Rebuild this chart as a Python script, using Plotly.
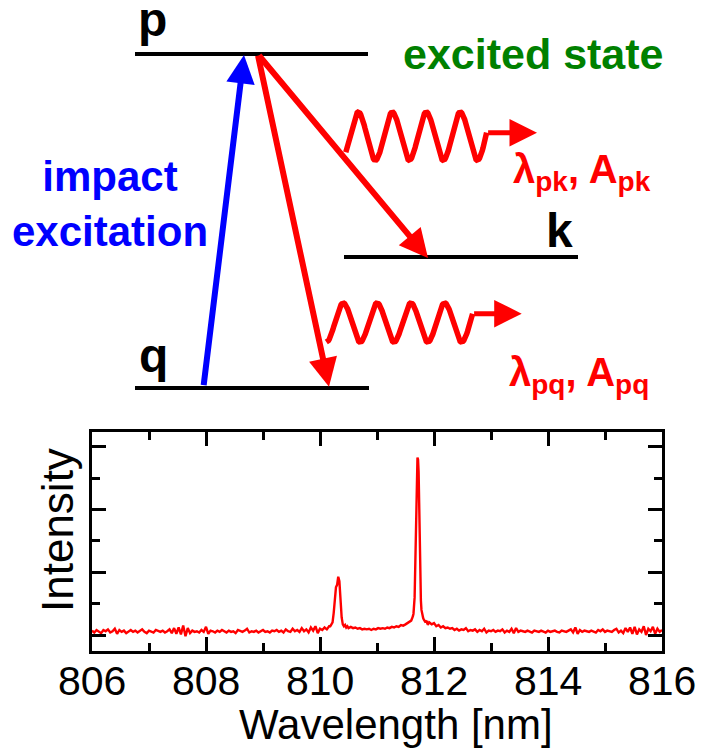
import numpy as np
import plotly.graph_objects as go

# ---------------- spectrum data ----------------
seg_start = [806.00, 810.18, 810.54, 811.60, 811.92]
seg_step = [0.04, 0.02, 0.04, 0.01, 0.04]

seg_a = [0.07, 0.04, 0.08, 0.05, 0.03, 0.08, 0.06, 0.09, 0.04, 0.06,
         0.10, 0.02, 0.08, 0.05, 0.07, 0.03, 0.06, 0.08, 0.05, 0.07,
         0.04, 0.06, 0.09, 0.05, 0.03, 0.07, 0.06, 0.04, 0.08, 0.06,
         0.05, 0.07, 0.04, 0.06, 0.09, 0.03, 0.11, 0.02, 0.12, 0.01,
         0.15, -0.02, 0.11, 0.03, 0.07, 0.05, 0.06, 0.04, 0.08, 0.05,
         0.13, 0.02, 0.07, 0.06, 0.04, 0.07, 0.05, 0.08, 0.06, 0.04,
         0.07, 0.05, 0.06, 0.03, 0.08, 0.06, 0.05, 0.07, 0.10, 0.04,
         0.06, 0.05, 0.07, 0.04, 0.06, 0.08, 0.05, 0.06, 0.04, 0.07,
         0.06, 0.08, 0.05, 0.07, 0.04, 0.09, 0.06, 0.05, 0.10, 0.06,
         0.08, 0.05, 0.11, 0.06, 0.09, 0.04, 0.12, 0.07, 0.14, 0.03,
         0.10, 0.08, 0.12, 0.09, 0.14]
seg_b = [0.14, 0.17, 0.20, 0.35, 0.62, 0.76, 0.80, 0.93, 0.86, 0.55,
         0.28, 0.17, 0.14, 0.16, 0.12, 0.14, 0.11]
seg_c = [0.13, 0.11, 0.12, 0.10, 0.11, 0.09, 0.10, 0.09, 0.10, 0.08,
         0.10, 0.09, 0.11, 0.10, 0.11, 0.10, 0.12, 0.11, 0.13, 0.12,
         0.14, 0.13, 0.16, 0.15, 0.17, 0.19, 0.22]
seg_d = [0.23, 0.25, 0.27, 0.30, 0.34, 0.42, 0.60, 1.05, 1.70, 2.30,
         2.70, 2.83, 2.80, 2.60, 2.10, 1.45, 0.90, 0.55, 0.40, 0.33,
         0.30, 0.27, 0.25, 0.24, 0.22, 0.23, 0.20, 0.21, 0.19, 0.20,
         0.18]
seg_e = [0.20, 0.17, 0.19, 0.14, 0.16, 0.12, 0.14, 0.11, 0.12, 0.10,
         0.11, 0.08, 0.10, 0.07, 0.09, 0.08, 0.11, 0.06, 0.08, 0.07,
         0.09, 0.05, 0.08, 0.06, 0.10, 0.04, 0.07, 0.06, 0.08, 0.05,
         0.07, 0.06, 0.09, 0.04, 0.07, 0.05, 0.10, 0.03, 0.11, 0.05,
         0.07, 0.06, 0.05, 0.07, 0.06, 0.04, 0.07, 0.06, 0.05, 0.07,
         0.06, 0.04, 0.07, 0.05, 0.06, 0.07, 0.05, 0.04, 0.07, 0.06,
         0.05, 0.07, 0.09, 0.04, 0.12, 0.02, 0.08, 0.05, 0.07, 0.06,
         0.05, 0.07, 0.06, 0.04, 0.08, 0.06, 0.09, 0.05, 0.07, 0.06,
         0.05, 0.08, 0.10, 0.04, 0.07, 0.03, 0.11, 0.05, 0.12, 0.02,
         0.13, 0.01, 0.09, 0.05, 0.14, 0.00, 0.10, 0.06, 0.13, 0.02,
         0.10, 0.05, 0.08]
seg_vals = [seg_a, seg_b, seg_c, seg_d, seg_e]

x_ticks = [806, 808, 810, 812, 814, 816]
x_tick_labels = ["806", "808", "810", "812", "814", "816"]
x_minor = [807, 809, 811, 813, 815]
y_ticks = [0, 1, 2, 3]
y_minor = [0.5, 1.5, 2.5]

wavelength, intensity = [], []
for s0, st, vals in zip(seg_start, seg_step, seg_vals):
    for i, v in enumerate(vals):
        wavelength.append(round(s0 + st * i, 3))
        intensity.append(v)

# ---------------- energy-level diagram (schematic) ----------------
level_names = ["p", "k", "q"]
level_energy = [1.0, 0.392, 0.0]
level_x_start = [1.35, 3.44, 1.35]
level_x_end = [3.68, 5.78, 3.69]
level_label_x = [1.52, 5.595, 1.535]
level_label_y = [1.018, 0.386, 0.012]

# transitions: (x_from, E_from, x_to, E_to, colour)
transitions = [
    (2.035, 0.004, 2.44, 0.997, "#0000FF"),
    (2.577, 1.000, 4.28, 0.389, "#FF0000"),
    (2.577, 1.000, 3.29, 0.004, "#FF0000"),
]

# photons: x start, x end, centre E, amplitude, period, x of first crest, arrow tip x
photons = [
    (3.458, 4.866, 0.754, 0.0719, 0.34, 3.583, 5.37),
    (3.263, 4.726, 0.196, 0.0584, 0.338, 3.433, 5.217),
]

FONT_AX = "Liberation Sans, Arial, sans-serif"
FONT_BOLD = "Liberation Sans, Arial, sans-serif"

fig = go.Figure()

fig.add_trace(go.Scatter(
    x=wavelength, y=intensity, mode="lines",
    line=dict(color="#FF0000", width=2.4),
    xaxis="x", yaxis="y", showlegend=False, hoverinfo="skip"))

annotations = []

# photon wavy lines
for (xs, xe, ec, amp, per, crest, tip) in photons:
    xw = np.linspace(xs, xe, 200)
    yw = ec + amp * np.sin(2 * np.pi * (xw - crest) / per + np.pi / 2)
    fig.add_trace(go.Scatter(x=xw, y=yw, mode="lines",
                             line=dict(color="#FF0000", width=5.5),
                             xaxis="x2", yaxis="y2", showlegend=False,
                             hoverinfo="skip"))
    annotations.append(dict(x=tip, y=float(yw[-1]), ax=xe, ay=float(yw[-1]),
                            xref="x2", yref="y2", axref="x2", ayref="y2",
                            text="", showarrow=True, arrowhead=2, arrowsize=1.1,
                            arrowwidth=5, arrowcolor="#FF0000", standoff=0))

shapes = []
for name, e, x0, x1 in zip(level_names, level_energy, level_x_start, level_x_end):
    shapes.append(dict(type="line", xref="x2", yref="y2", x0=x0, x1=x1,
                       y0=e, y1=e, line=dict(color="black", width=4)))

for name, lx, ly in zip(level_names, level_label_x, level_label_y):
    annotations.append(dict(x=lx, y=ly, xref="x2", yref="y2", text="<b>%s</b>" % name,
                            showarrow=False, xanchor="center", yanchor="bottom",
                            font=dict(family=FONT_BOLD, size=48, color="black")))

for (xa, ya, xb, yb, col) in transitions:
    annotations.append(dict(x=xb, y=yb, ax=xa, ay=ya, xref="x2", yref="y2",
                            axref="x2", ayref="y2", text="", showarrow=True,
                            arrowhead=2, arrowsize=0.95, arrowwidth=6,
                            arrowcolor=col, standoff=0))

annotations.append(dict(x=5.335, y=0.922, xref="x2", yref="y2",
                        text="<b>excited state</b>", showarrow=False,
                        xanchor="center", yanchor="bottom",
                        font=dict(family=FONT_BOLD, size=43, color="#008000")))
annotations.append(dict(x=1.10, y=0.392, xref="x2", yref="y2",
                        text="<b>impact<br>excitation</b>", showarrow=False,
                        xanchor="center", yanchor="bottom",
                        font=dict(family=FONT_BOLD, size=42, color="#0000FF")))
annotations.append(dict(x=5.11, y=0.566, xref="x2", yref="y2",
                        text="<b>λ<sub>pk</sub>, A<sub>pk</sub></b>", showarrow=False,
                        xanchor="left", yanchor="bottom",
                        font=dict(family=FONT_BOLD, size=40, color="#FF0000")))
annotations.append(dict(x=5.07, y=-0.042, xref="x2", yref="y2",
                        text="<b>λ<sub>pq</sub>, A<sub>pq</sub></b>", showarrow=False,
                        xanchor="left", yanchor="bottom",
                        font=dict(family=FONT_BOLD, size=40, color="#FF0000")))

# tick labels of the wavelength axis (placed on the axis' own scale)
for tv, tl in zip(x_ticks, x_tick_labels):
    annotations.append(dict(x=tv, y=1 - 681 / 749, xref="x", yref="paper",
                            text=tl, showarrow=False, xanchor="center",
                            yanchor="middle",
                            font=dict(family=FONT_AX, size=41, color="black")))

# axis titles
annotations.append(dict(x=396 / 702, y=1 - 724 / 749, xref="paper", yref="paper",
                        text="Wavelength [nm]", showarrow=False,
                        xanchor="center", yanchor="middle",
                        font=dict(family=FONT_AX, size=42, color="black")))
annotations.append(dict(x=57 / 702, y=1 - 530 / 749, xref="paper", yref="paper",
                        text="Intensity", showarrow=False, textangle=-90,
                        xanchor="center", yanchor="middle",
                        font=dict(family=FONT_AX, size=44, color="black")))

fig.update_layout(
    width=702, height=749,
    margin=dict(l=0, r=0, t=0, b=0),
    paper_bgcolor="white", plot_bgcolor="white",
    showlegend=False,
    shapes=shapes,
    annotations=annotations,
    xaxis=dict(domain=[92 / 702, 662 / 702], range=[806, 816],
               tickvals=x_ticks, showticklabels=False,
               ticks="inside", ticklen=14, tickwidth=2.5, tickcolor="black",
               minor=dict(tickvals=x_minor, ticks="inside", ticklen=8,
                          tickwidth=2.5, tickcolor="black"),
               showline=True, linecolor="black", linewidth=2.5, mirror="ticks",
               showgrid=False, zeroline=False, automargin=False),
    yaxis=dict(domain=[1 - 651 / 749, 1 - 432 / 749], range=[-0.255, 3.238],
               tickvals=y_ticks, showticklabels=False,
               ticks="inside", ticklen=14, tickwidth=2.5, tickcolor="black",
               minor=dict(tickvals=y_minor, ticks="inside", ticklen=8,
                          tickwidth=2.5, tickcolor="black"),
               showline=True, linecolor="black", linewidth=2.5, mirror="ticks",
               showgrid=False, zeroline=False, automargin=False),
    xaxis2=dict(domain=[0, 1], range=[0, 7.02], visible=False, anchor="y2"),
    yaxis2=dict(domain=[1 - 420 / 749, 1], range=[-0.0958, 1.1617],
                visible=False, anchor="x2"),
)

fig.write_html("out.html",
               config={"displayModeBar": False},
               post_script="document.body.style.margin='0px';"
                           "document.body.style.overflow='hidden';")
